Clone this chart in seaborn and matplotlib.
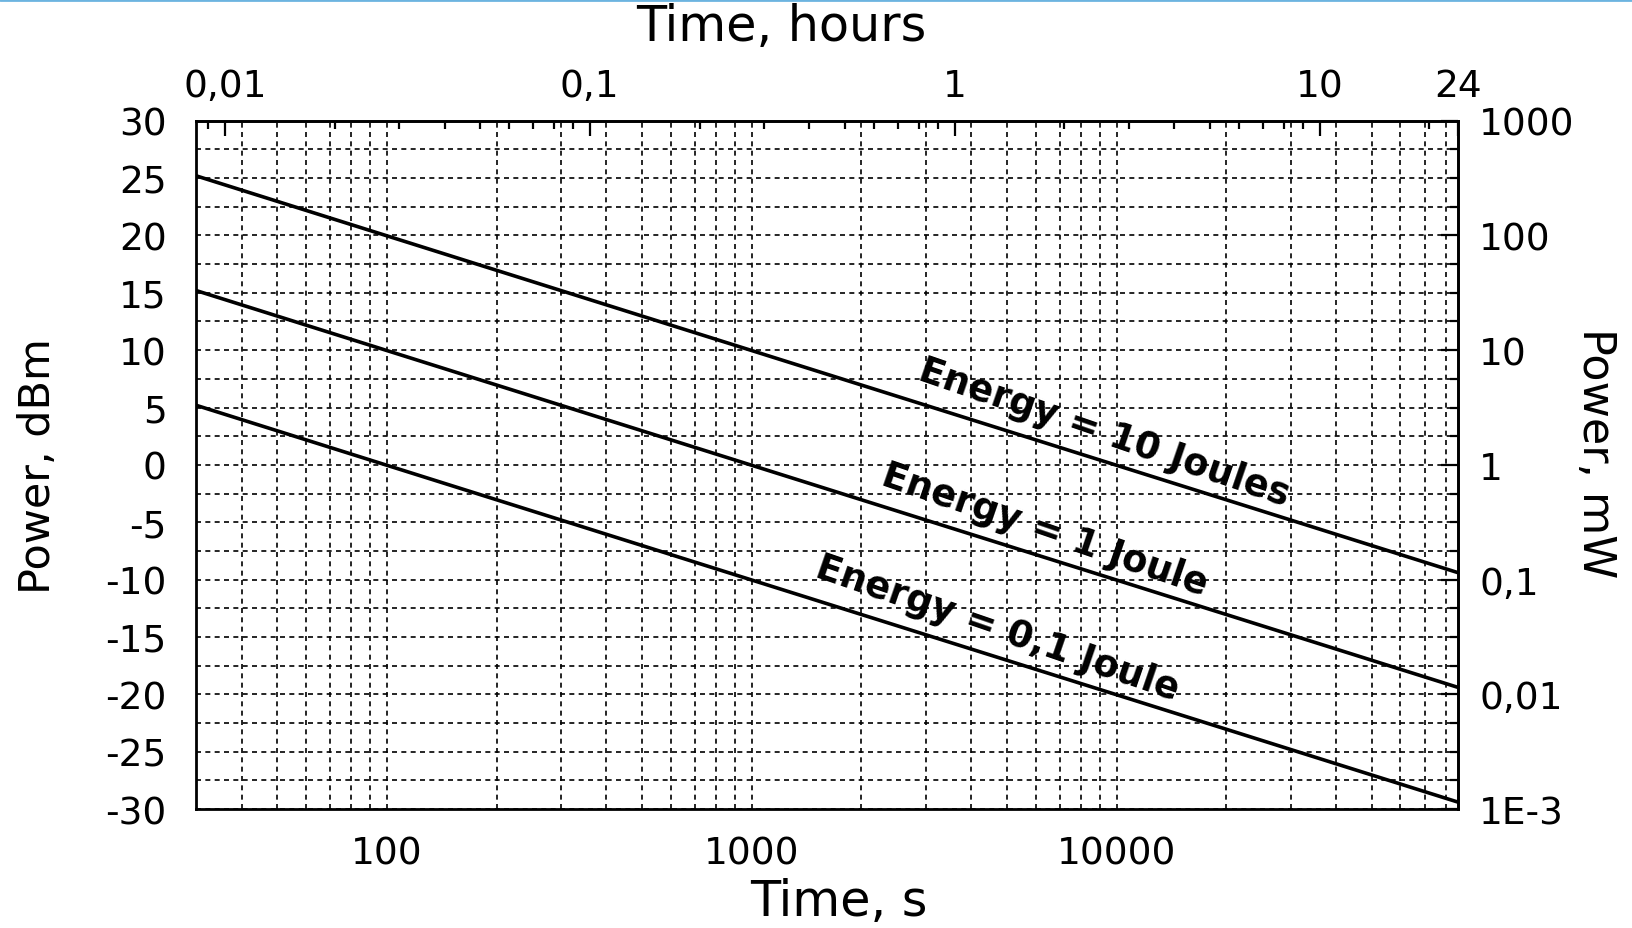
import numpy as np
import pandas as pd
import matplotlib
matplotlib.use('Agg')
import matplotlib.pyplot as plt
import matplotlib.ticker as mticker
import seaborn as sns

# values (end points of each straight line, dBm)
time_s = [30, 86400]
p_10J = [25.2, -9.4]
p_1J = [15.2, -19.4]
p_01J = [5.2, -29.4]
line_names = ['Energy = 10 Joules', 'Energy = 1 Joule', 'Energy = 0,1 Joule']

# label anchor points (time s, dBm)
label_t = [9230, 6370, 4730]
label_p = [2.9, -5.6, -14.2]

dbm_ticks = [-30, -25, -20, -15, -10, -5, 0, 5, 10, 15, 20, 25, 30]
mw_ticks = [1e-3, 0.01, 0.1, 1, 10, 100, 1000]
mw_labels = ['1E-3', '0,01', '0,1', '1', '10', '100', '1000']
hour_ticks = [0.01, 0.1, 1, 10, 24]
hour_labels = ['0,01', '0,1', '1', '10', '24']

df = pd.DataFrame({
    'time': time_s * 3,
    'power': p_10J + p_1J + p_01J,
    'energy': [line_names[0]] * 2 + [line_names[1]] * 2 + [line_names[2]] * 2,
})

sns.set_style('white')
plt.rcParams['font.family'] = ['DejaVu Sans']
plt.rcParams['axes.unicode_minus'] = False
plt.rcParams['text.color'] = 'black'
plt.rcParams['axes.labelcolor'] = 'black'
plt.rcParams['xtick.color'] = 'black'
plt.rcParams['ytick.color'] = 'black'

fig = plt.figure(figsize=(16.33, 9.29), dpi=100)
ax = fig.add_axes([0.120, 0.128, 0.773, 0.741])

sns.lineplot(data=df, x='time', y='power', units='energy', estimator=None,
             color='black', linewidth=2.6, legend=False, ax=ax, zorder=3)

ax.set_xscale('log')
ax.set_xlim(30, 86400)
ax.set_ylim(-30, 30)

# left / bottom axes
ax.yaxis.set_major_locator(mticker.FixedLocator(dbm_ticks))
ax.yaxis.set_minor_locator(mticker.MultipleLocator(2.5))
ax.xaxis.set_major_locator(mticker.LogLocator(base=10, numticks=20))
ax.xaxis.set_minor_locator(mticker.LogLocator(base=10, subs=np.arange(2, 10), numticks=20))
ax.xaxis.set_major_formatter(mticker.FuncFormatter(lambda v, p: '%d' % v))
ax.xaxis.set_minor_formatter(mticker.NullFormatter())

ax.tick_params(axis='y', which='major', direction='out', length=12, width=1.6,
               labelsize=27, pad=9)
ax.tick_params(axis='y', which='minor', direction='out', length=6, width=1.6)
ax.tick_params(axis='x', which='major', direction='out', length=11, width=1.6,
               labelsize=27, pad=8)
ax.tick_params(axis='x', which='minor', direction='out', length=5.5, width=1.6)

ax.grid(which='both', color='black', linestyle=(0, (3, 2.6)), linewidth=1.2)
for s in ax.spines.values():
    s.set_linewidth(2.0)
    s.set_color('black')

ax.set_xlabel('Time, s', fontsize=35.5)
ax.xaxis.set_label_coords(0.509, -0.134, transform=ax.transAxes)
ax.xaxis.label.set_va('center')
ax.set_ylabel('Power, dBm', fontsize=31)
ax.yaxis.set_label_coords(-0.125, 0.5, transform=ax.transAxes)
ax.yaxis.label.set_va('center')

# top axis in hours
top = ax.secondary_xaxis('top', functions=(lambda s: s / 3600.0, lambda h: h * 3600.0))
top.xaxis.set_major_locator(mticker.FixedLocator(hour_ticks))
top.xaxis.set_major_formatter(mticker.FixedFormatter(hour_labels))
top.xaxis.set_minor_locator(mticker.LogLocator(base=10, subs=np.arange(2, 10), numticks=20))
top.xaxis.set_minor_formatter(mticker.NullFormatter())
top.tick_params(axis='x', which='major', direction='in', length=11, width=1.6,
                labelsize=27, pad=12)
top.tick_params(axis='x', which='minor', direction='in', length=5.5, width=1.6)
top.xaxis.grid(False, which='both')
top.set_xlabel('Time, hours', fontsize=35.5)
top.xaxis.set_label_coords(0.4636, 1.137, transform=ax.transAxes)
top.xaxis.label.set_va('center')
top.spines['top'].set_linewidth(2.0)


# right axis in mW
def dbm_to_mw(d):
    return 10 ** (np.asarray(d, dtype=float) / 10.0)


def mw_to_dbm(m):
    return 10 * np.log10(np.clip(np.asarray(m, dtype=float), 1e-30, None))


right = ax.secondary_yaxis('right', functions=(dbm_to_mw, mw_to_dbm))
right.yaxis.set_major_locator(mticker.FixedLocator(mw_ticks))
right.yaxis.set_major_formatter(mticker.FixedFormatter(mw_labels))
right.yaxis.set_minor_locator(mticker.FixedLocator(dbm_to_mw(np.arange(-30, 30.1, 2.5))))
right.yaxis.set_minor_formatter(mticker.NullFormatter())
right.tick_params(axis='y', which='major', direction='in', length=12, width=1.6,
                  labelsize=27, pad=15)
right.tick_params(axis='y', which='minor', direction='in', length=6, width=1.6)
right.yaxis.grid(False, which='both')
right.set_ylabel('Power, mW', fontsize=32, rotation=270)
right.yaxis.set_label_coords(1.109, 0.519, transform=ax.transAxes)
right.yaxis.label.set_va('center')
right.yaxis.label.set_ha('center')
right.spines['right'].set_linewidth(2.0)

# line labels
for name, t, p in zip(line_names, label_t, label_p):
    ax.text(t, p, name, fontsize=26.5, fontweight='bold', rotation=-19,
            rotation_mode='anchor', ha='center', va='center', zorder=4)

# thin blue rule along the top edge
fig.add_artist(plt.Line2D([0.0, 1.0], [0.999, 0.999], transform=fig.transFigure,
                          color='#6cb4e0', linewidth=2))

fig.savefig('out.png', dpi=100)
